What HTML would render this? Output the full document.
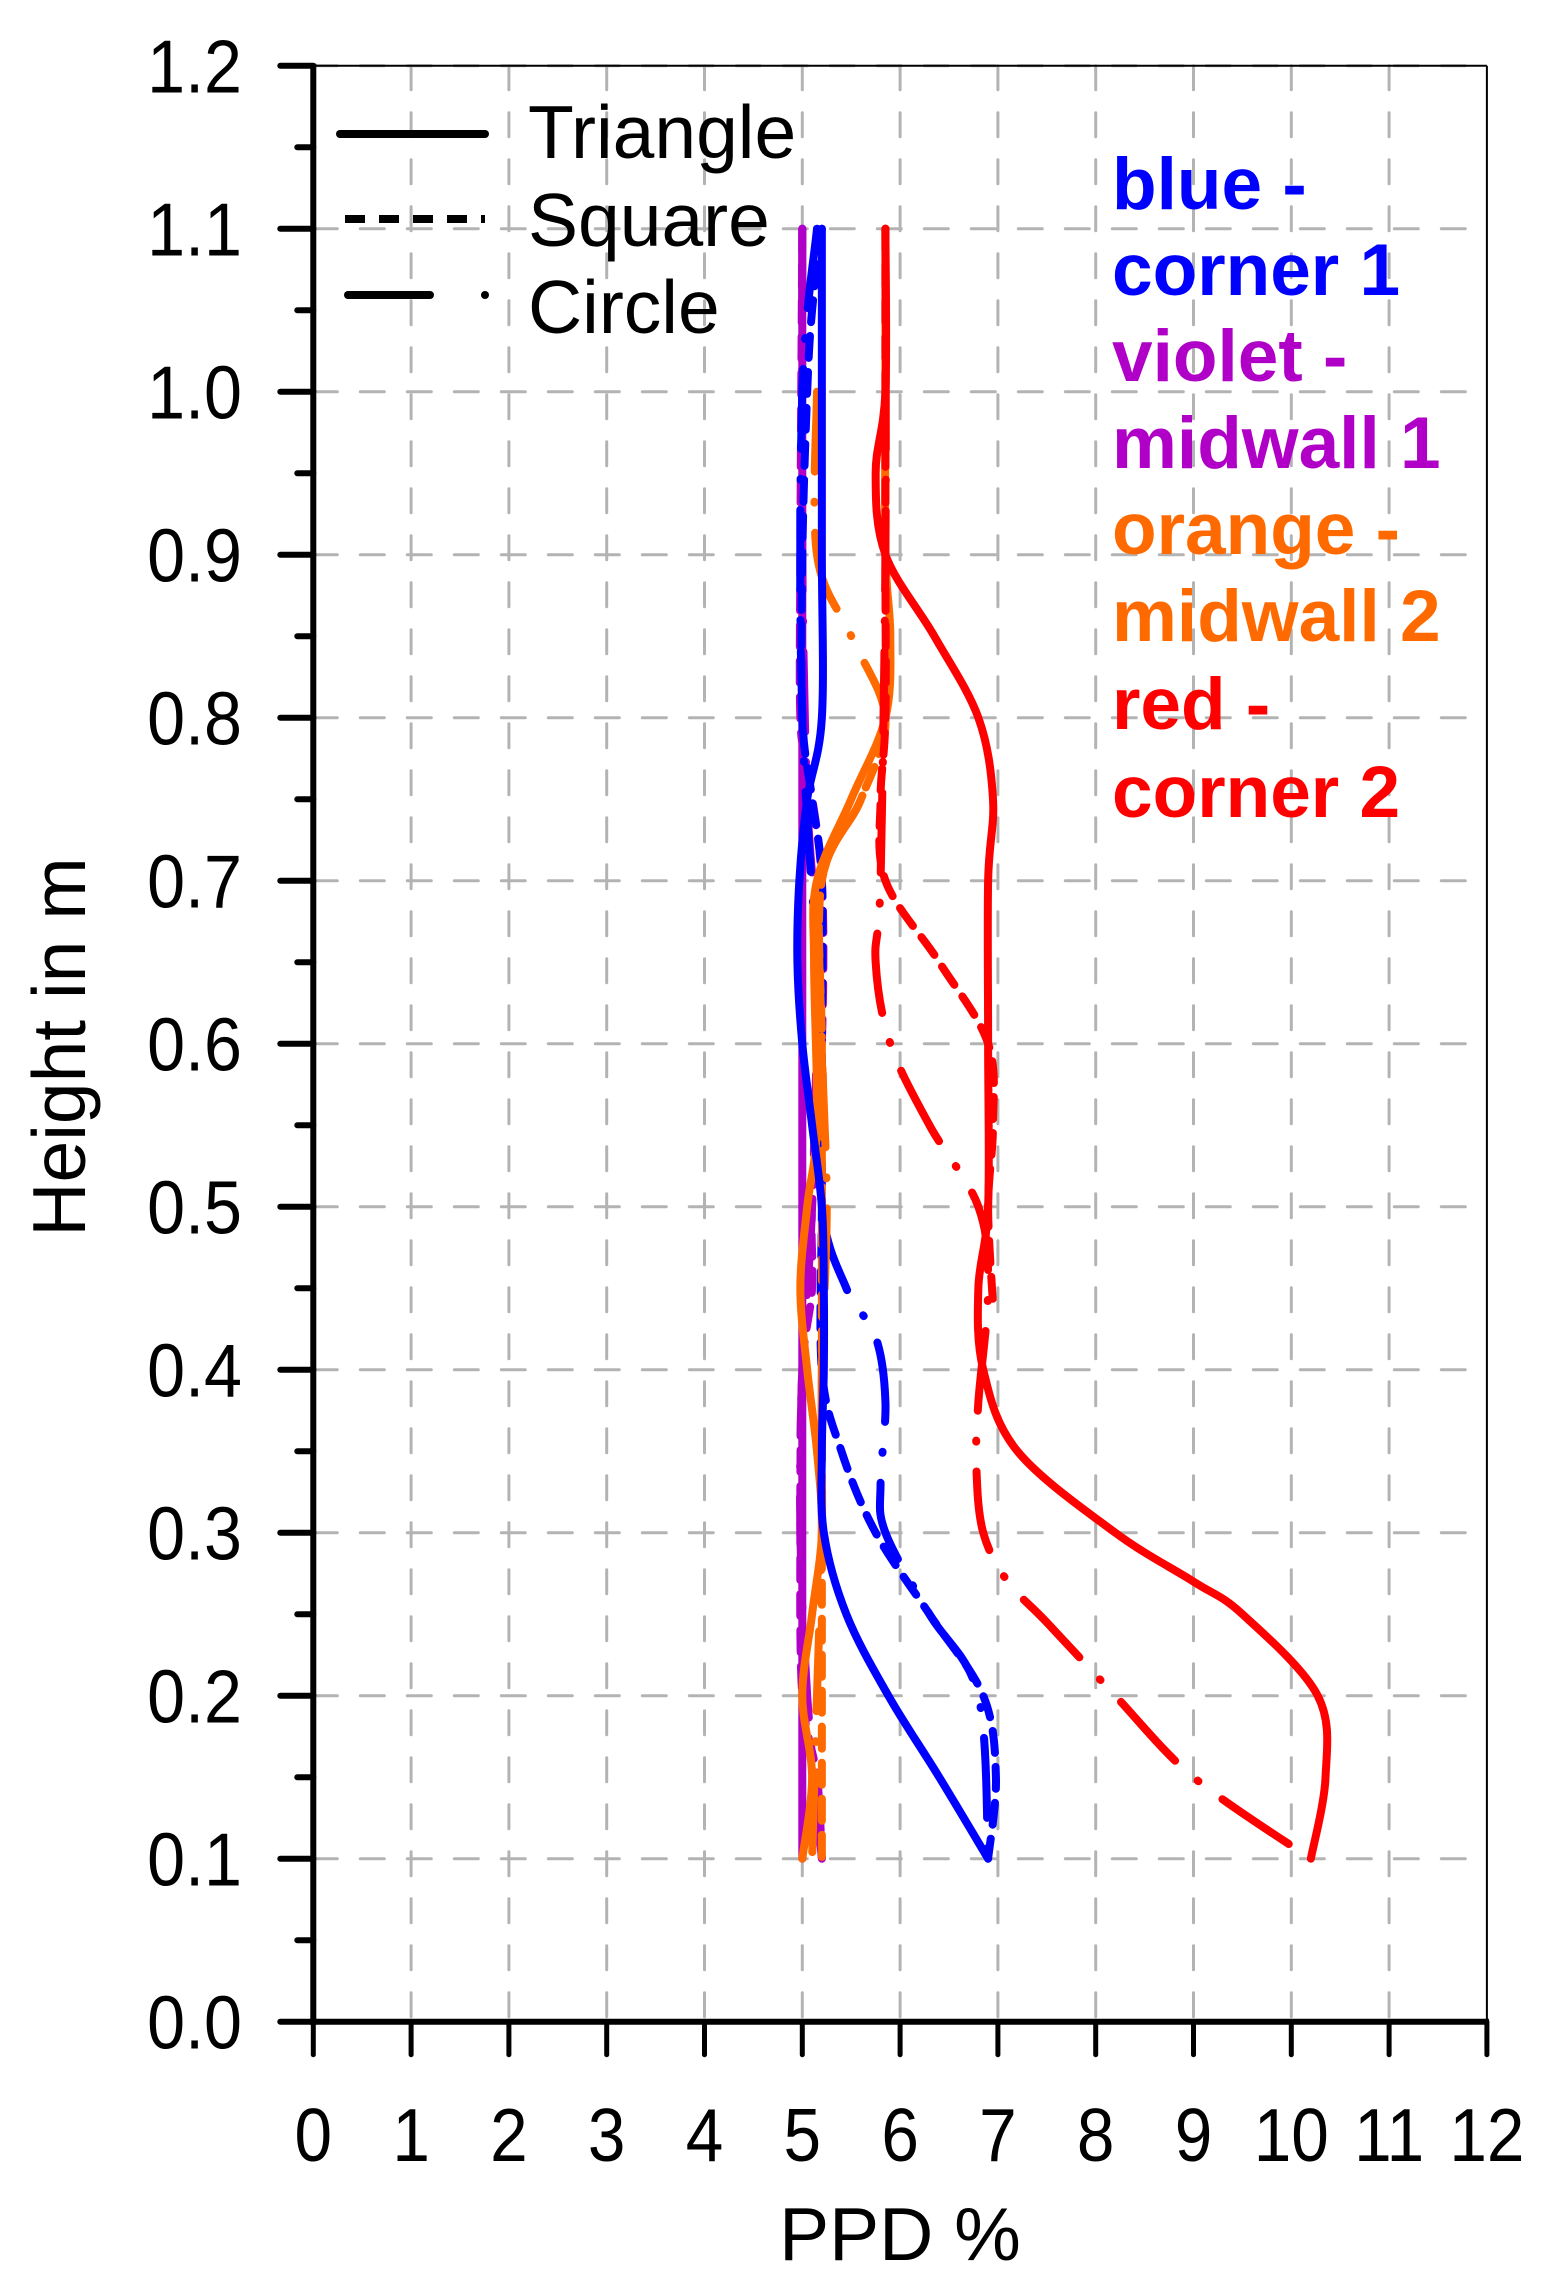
<!DOCTYPE html>
<html><head><meta charset="utf-8"><style>
html,body{margin:0;padding:0;background:#fff;}
svg{display:block;font-family:"Liberation Sans",Arial,sans-serif;}
</style></head><body>
<svg id="chart" width="1548" height="2292" viewBox="0 0 1548 2292" xmlns="http://www.w3.org/2000/svg">
<g id="grid"></g>
<g id="series"></g>
<g id="axes"></g>
<g id="legend">
  <line x1="340" y1="134" x2="485" y2="134" stroke="#000" stroke-width="8" stroke-linecap="round"/>
  <line x1="345" y1="219" x2="485" y2="219" stroke="#000" stroke-width="8" stroke-dasharray="20 14"/>
  <line x1="348" y1="295" x2="430" y2="295" stroke="#000" stroke-width="8" stroke-linecap="round"/>
  <circle cx="485" cy="295" r="4" fill="#000"/>
  <text x="528" y="158" font-size="75">Triangle</text>
  <text x="528" y="246" font-size="75">Square</text>
  <text x="528" y="333" font-size="75">Circle</text>
</g>
<g id="notes" font-weight="bold" font-size="73">
  <text x="1112" y="209" fill="#0000ff">blue -</text>
  <text x="1112" y="295" fill="#0000ff">corner 1</text>
  <text x="1112" y="381" fill="#b000c8">violet -</text>
  <text x="1112" y="468" fill="#b000c8">midwall 1</text>
  <text x="1112" y="554" fill="#ff6a00">orange -</text>
  <text x="1112" y="641" fill="#ff6a00">midwall 2</text>
  <text x="1112" y="729" fill="#ff0000">red -</text>
  <text x="1112" y="817" fill="#ff0000">corner 2</text>
</g>
<text transform="translate(85,1047) rotate(-90)" text-anchor="middle" font-size="75">Height in m</text>
<text x="900" y="2260" text-anchor="middle" font-size="75">PPD %</text>
</svg>
<script>
const xTicks = [0,1,2,3,4,5,6,7,8,9,10,11,12];
const yTicks = [0.0,0.1,0.2,0.3,0.4,0.5,0.6,0.7,0.8,0.9,1.0,1.1,1.2];
const yTickLabels = ["0.0","0.1","0.2","0.3","0.4","0.5","0.6","0.7","0.8","0.9","1.0","1.1","1.2"];

const blueTriH = [1.1,1.0,0.9,0.8,0.75,0.7,0.65,0.6,0.55,0.5,0.45,0.4,0.35,0.3,0.25,0.2,0.15,0.1];
const blueTriV = [5.2,5.2,5.2,5.2,5.05,4.97,4.95,5.0,5.1,5.2,5.22,5.22,5.2,5.22,5.45,5.88,6.4,6.9];
const blueSqH = [1.1,1.05,1.0,0.9,0.8,0.75,0.7,0.6,0.5,0.4,0.35,0.3,0.25,0.2,0.15,0.1];
const blueSqV = [5.2,5.1,5.05,5.0,5.0,5.1,5.2,5.2,5.2,5.2,5.4,5.75,6.3,6.85,6.98,6.9];
const blueCirH = [1.1,1.0,0.8,0.6,0.5,0.45,0.42,0.38,0.33,0.3,0.25,0.2,0.1];
const blueCirV = [5.15,5.0,5.0,5.2,5.2,5.45,5.75,5.85,5.8,5.85,6.3,6.8,6.9];

const violetTriH = [1.1,0.9,0.7,0.5,0.3,0.1];
const violetTriV = [5.0,5.0,5.0,5.0,5.0,5.0];
const violetSqH = [1.1,0.9,0.8,0.77,0.7,0.6,0.5,0.45,0.4,0.3,0.2,0.15,0.1];
const violetSqV = [5.0,4.98,4.98,5.05,5.2,5.2,5.1,5.1,5.0,4.98,5.0,5.15,5.2];
const violetCirH = [1.1,0.9,0.75,0.65,0.5,0.4,0.3,0.2,0.1];
const violetCirV = [5.0,5.0,5.05,5.15,5.1,5.0,4.98,5.05,5.2];

const orangeTriH = [1.1,1.0,0.9,0.85,0.8,0.75,0.7,0.65,0.55,0.5,0.45,0.4,0.35,0.3,0.25,0.2,0.15,0.1];
const orangeTriV = [5.85,5.85,5.85,5.9,5.85,5.5,5.15,5.12,5.15,5.05,4.98,5.05,5.15,5.2,5.1,5.0,5.1,5.0];
const orangeSqH = [1.1,0.9,0.8,0.75,0.7,0.6,0.5,0.4,0.3,0.2,0.1];
const orangeSqV = [5.85,5.85,5.85,5.6,5.2,5.2,5.2,5.2,5.2,5.2,5.2];
const orangeCirH = [1.0,0.9,0.85,0.8,0.75,0.7,0.6,0.5,0.4,0.3,0.2,0.1];
const orangeCirV = [5.15,5.15,5.5,5.85,5.6,5.2,5.2,5.25,5.2,5.2,5.15,5.1];

const redTriH = [1.1,1.0,0.95,0.9,0.85,0.8,0.75,0.7,0.6,0.5,0.45,0.4,0.35,0.3,0.27,0.25,0.2,0.15,0.1];
const redTriV = [5.85,5.85,5.75,5.85,6.35,6.8,6.95,6.9,6.9,6.9,6.8,6.85,7.2,8.2,9.0,9.5,10.27,10.35,10.2];
const redSqH = [1.1,0.9,0.8,0.75,0.7,0.65,0.6,0.55,0.5,0.44];
const redSqV = [5.85,5.85,5.85,5.8,5.85,6.4,6.9,6.95,6.9,6.95];
const redCirH = [1.1,0.9,0.7,0.65,0.6,0.55,0.5,0.45,0.38,0.34,0.3,0.27,0.245,0.2,0.15,0.1];
const redCirV = [5.85,5.85,5.8,5.75,5.9,6.3,6.8,6.9,6.8,6.78,6.85,7.1,7.5,8.2,9.0,10.2];

const X0=313.3, XS=97.8, Y0=2021.7, YS=1630;
function sx(v){return X0+XS*v;}
function sy(v){return Y0-YS*v;}
const NS="http://www.w3.org/2000/svg";
function mk(tag,attrs,parent){const e=document.createElementNS(NS,tag);for(const k in attrs)e.setAttribute(k,attrs[k]);parent.appendChild(e);return e;}

const grid=document.getElementById('grid');
xTicks.forEach(t=>{ if(t===0||t===12) return;
  const l=mk('line',{x1:sx(t),x2:sx(t),y1:sy(1.2),y2:sy(0),stroke:'#b3b3b3','stroke-width':3,'stroke-dasharray':'24 23','stroke-linecap':'round'},grid);
  
  
});
yTicks.forEach(t=>{ if(t===0) return;
  const l=mk('line',{x1:sx(0),x2:sx(12),y1:sy(t),y2:sy(t),stroke:'#b3b3b3','stroke-width':3,'stroke-dasharray':'24 23','stroke-linecap':'round'},grid);
  
  
});

function pathD(H,V){
  const p=H.map((h,i)=>[sx(V[i]),sy(h)]);
  let d='M'+p[0][0]+','+p[0][1];
  for(let i=0;i<p.length-1;i++){
    const p0=p[i-1]||p[i],p1=p[i],p2=p[i+1],p3=p[i+2]||p2;
    const c1=[p1[0]+(p2[0]-p0[0])/6,p1[1]+(p2[1]-p0[1])/6];
    const c2=[p2[0]-(p3[0]-p1[0])/6,p2[1]-(p3[1]-p1[1])/6];
    d+=' C'+c1[0]+','+c1[1]+' '+c2[0]+','+c2[1]+' '+p2[0]+','+p2[1];
  }
  return d;
}
const ser=document.getElementById('series');
const styles={tri:'none',sq:'22 14',cir:'80 30 1 30'};
function addSeries(H,V,color,style,name){
  const e=mk('path',{d:pathD(H,V),fill:'none',stroke:color,'stroke-width':8,'stroke-dasharray':styles[style],'stroke-linecap':'round','stroke-linejoin':'round'},ser);
  
  
}
addSeries(violetTriH,violetTriV,'#b000c8','tri','violet-triangle-line');
addSeries(violetCirH,violetCirV,'#b000c8','cir','violet-circle-line');
addSeries(violetSqH,violetSqV,'#b000c8','sq','violet-square-line');
addSeries(blueCirH,blueCirV,'#0000ff','cir','blue-circle-line');
addSeries(blueSqH,blueSqV,'#0000ff','sq','blue-square-line');
addSeries(orangeCirH,orangeCirV,'#ff6a00','cir','orange-circle-line');
addSeries(orangeSqH,orangeSqV,'#ff6a00','sq','orange-square-line');
addSeries(orangeTriH,orangeTriV,'#ff6a00','tri','orange-triangle-line');
addSeries(blueTriH,blueTriV,'#0000ff','tri','blue-triangle-line');
addSeries(redCirH,redCirV,'#ff0000','cir','red-circle-line');
addSeries(redSqH,redSqV,'#ff0000','sq','red-square-line');
addSeries(redTriH,redTriV,'#ff0000','tri','red-triangle-line');

const axes=document.getElementById('axes');
let e;
e=mk('line',{x1:sx(0),x2:sx(12),y1:sy(1.2),y2:sy(1.2),stroke:'#000','stroke-width':2},axes);


e=mk('line',{x1:sx(12),x2:sx(12),y1:sy(1.2),y2:sy(0),stroke:'#000','stroke-width':2},axes);


e=mk('line',{x1:sx(0),x2:sx(0),y1:sy(1.2)-2,y2:sy(0)+3,stroke:'#000','stroke-width':6},axes);


e=mk('line',{x1:sx(0)-3,x2:sx(12)+2,y1:sy(0),y2:sy(0),stroke:'#000','stroke-width':6},axes);


xTicks.forEach(t=>{
  const l=mk('line',{x1:sx(t),x2:sx(t),y1:sy(0),y2:sy(0)+33,stroke:'#000','stroke-width':5,'stroke-linecap':'round'},axes);
  
  
  const tx=mk('text',{x:sx(t),y:2161,'text-anchor':'middle','font-size':75,transform:'translate('+sx(t)+',0) scale(0.9,1) translate('+(-sx(t))+',0)'},axes);
  tx.textContent=String(t);
  
  
});
yTicks.forEach((t,i)=>{
  const l=mk('line',{x1:sx(0)-33,x2:sx(0),y1:sy(t),y2:sy(t),stroke:'#000','stroke-width':6,'stroke-linecap':'round'},axes);
  
  
  if(i<yTicks.length-1){
    const m=mk('line',{x1:sx(0)-16,x2:sx(0),y1:sy(t+0.05),y2:sy(t+0.05),stroke:'#000','stroke-width':6,'stroke-linecap':'round'},axes);
    
    
  }
  const tx=mk('text',{x:242,y:sy(t)+27,'text-anchor':'end','font-size':75,transform:'translate(242,0) scale(0.91,1) translate(-242,0)'},axes);
  tx.textContent=yTickLabels[i];
  
  
});
</script>
</body></html>
